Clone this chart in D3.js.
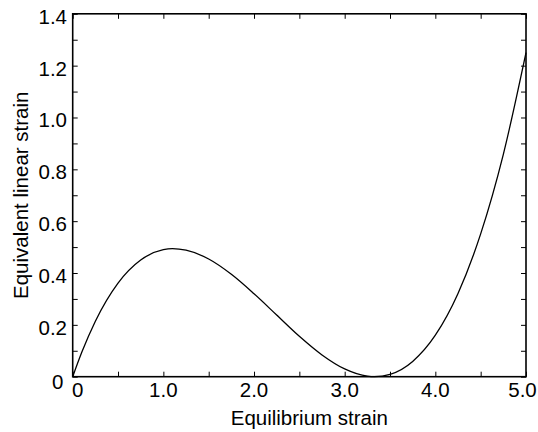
<!DOCTYPE html>
<html>
<head>
<meta charset="utf-8">
<style>
    body { margin: 0; background: #fff; }
    svg text { font-family: "Liberation Sans", Arial, sans-serif; font-size: 20.5px; fill: #000; }
</style>
</head>
<body>
    <div id="chart"></div>

    <script src="https://d3js.org/d3.v7.min.js"></script>
    <script type="text/javascript">
        // curve
        var strainX = [0, 0.1, 0.25, 0.5, 0.75, 1.0, 1.1, 1.25, 1.5, 1.75, 2.0, 2.25, 2.5, 2.75, 3.0, 3.25, 3.33, 3.5, 3.75, 4.0, 4.25, 4.5, 4.75, 5.0];
        var strainY = [0, 0.094, 0.214, 0.361, 0.450, 0.490, 0.494, 0.488, 0.454, 0.395, 0.320, 0.238, 0.156, 0.084, 0.030, 0.002, 0, 0.009, 0.059, 0.160, 0.321, 0.551, 0.858, 1.25];

        var xTicks = [0, 1, 2, 3, 4, 5];
        var xTickLabels = ["0", "1.0", "2.0", "3.0", "4.0", "5.0"];
        var xMinor = [0.5, 1.5, 2.5, 3.5, 4.5];
        var yTicks = [0, 0.2, 0.4, 0.6, 0.8, 1.0, 1.2, 1.4];
        var yTickLabels = ["0", "0.2", "0.4", "0.6", "0.8", "1.0", "1.2", "1.4"];
        var yMinor = [0.1, 0.3, 0.5, 0.7, 0.9, 1.1, 1.3];

        var w = 538;
        var h = 432;
        var pLeft = 72.7, pRight = 526, pTop = 13.8, pBottom = 376.7;

        var x = d3.scaleLinear().domain([0, 5]).range([pLeft, pRight]);
        var y = d3.scaleLinear().domain([0, 1.4]).range([pBottom, pTop]);

        var svg = d3.select('#chart')
            .append('svg')
            .attr('width', w)
            .attr('height', h);

        // ticks on all four sides, pointing inward
        var allX = xTicks.concat(xMinor);
        var allY = yTicks.concat(yMinor);

        function tickStyle(g) {
            g.select('.domain').remove();
            g.selectAll('line').attr('stroke', '#000').attr('stroke-width', 1);
        }

        svg.append('g')
            .attr('transform', 'translate(0,' + pBottom + ')')
            .call(d3.axisBottom(x).tickValues(allX).tickSize(-5).tickFormat(''))
            .call(tickStyle);
        svg.append('g')
            .attr('transform', 'translate(0,' + pTop + ')')
            .call(d3.axisTop(x).tickValues(allX).tickSize(-5).tickFormat(''))
            .call(tickStyle);
        svg.append('g')
            .attr('transform', 'translate(' + pLeft + ',0)')
            .call(d3.axisLeft(y).tickValues(allY).tickSize(-5).tickFormat(''))
            .call(tickStyle);
        svg.append('g')
            .attr('transform', 'translate(' + pRight + ',0)')
            .call(d3.axisRight(y).tickValues(allY).tickSize(-5).tickFormat(''))
            .call(tickStyle);

        // frame
        svg.append('rect')
            .attr('x', pLeft)
            .attr('y', pTop)
            .attr('width', pRight - pLeft)
            .attr('height', pBottom - pTop)
            .attr('fill', 'none')
            .attr('stroke', '#000')
            .attr('stroke-width', 1.6);

        // tick labels
        svg.selectAll('text.xl')
            .data(xTicks)
            .enter()
            .append('text')
            .attr('class', 'xl')
            .attr('x', function (d, i) {
                if (i == 0) return x(d) + 5;
                if (i == xTicks.length - 1) return x(d) - 3.5;
                return x(d);
            })
            .attr('y', 397)
            .attr('text-anchor', 'middle')
            .text(function (d, i) { return xTickLabels[i]; });

        svg.selectAll('text.yl')
            .data(yTicks)
            .enter()
            .append('text')
            .attr('class', 'yl')
            .attr('x', function (d, i) { return i == 0 ? 63.5 : 67; })
            .attr('y', function (d, i) { return i == 0 ? y(d) + 12.5 : y(d) + 10; })
            .attr('text-anchor', 'end')
            .text(function (d, i) { return yTickLabels[i]; });

        // axis titles
        svg.append('text')
            .attr('x', (pLeft + pRight) / 2 + 10)
            .attr('y', 425)
            .attr('text-anchor', 'middle')
            .text('Equilibrium strain');

        svg.append('text')
            .attr('transform', 'translate(28,' + ((pTop + pBottom) / 2) + ') rotate(-90)')
            .attr('text-anchor', 'middle')
            .text('Equivalent linear strain');

        // the curve
        var pts = strainX.map(function (d, i) { return [d, strainY[i]]; });
        var line = d3.line()
            .x(function (d) { return x(d[0]); })
            .y(function (d) { return y(d[1]); })
            .curve(d3.curveMonotoneX);

        svg.append('path')
            .datum(pts)
            .attr('d', line)
            .attr('fill', 'none')
            .attr('stroke', '#000')
            .attr('stroke-width', 1.3);
    </script>
</body>
</html>
